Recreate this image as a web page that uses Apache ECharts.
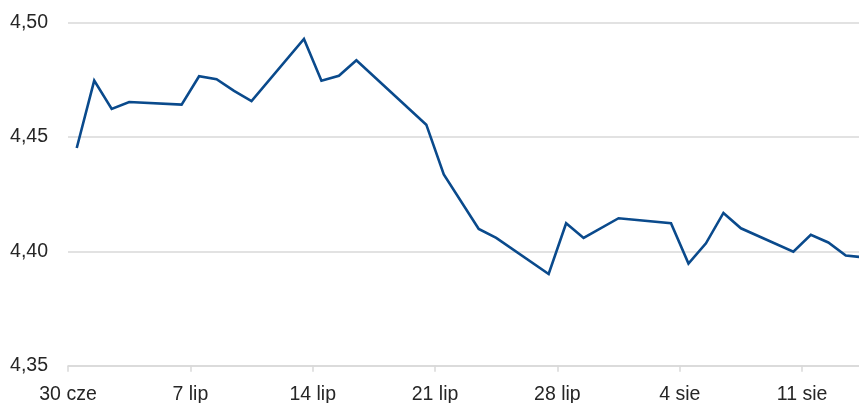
<!DOCTYPE html>
<html>
<head>
<meta charset="utf-8">
<script src="https://cdn.jsdelivr.net/npm/echarts@6/dist/echarts.min.js"></script>
<style>
  html, body { margin: 0; padding: 0; background: #ffffff; }
  #chart { width: 859px; height: 403px; }
</style>
</head>
<body>
<div id="chart"></div>
<script>
// Daily fixing, summer 2025
const dates = [
  '2025-07-01', '2025-07-02', '2025-07-03', '2025-07-04',
  '2025-07-07', '2025-07-08', '2025-07-09', '2025-07-10', '2025-07-11',
  '2025-07-14', '2025-07-15', '2025-07-16', '2025-07-17',
  '2025-07-21', '2025-07-22', '2025-07-24', '2025-07-25',
  '2025-07-28', '2025-07-29', '2025-07-30', '2025-08-01',
  '2025-08-04', '2025-08-05', '2025-08-06', '2025-08-07', '2025-08-08',
  '2025-08-11', '2025-08-12', '2025-08-13', '2025-08-14', '2025-08-15'
];
const values = [
  4.4452, 4.4747, 4.4623, 4.4653,
  4.4642, 4.4766, 4.4753, 4.4702, 4.4657,
  4.4929, 4.4746, 4.4768, 4.4836,
  4.4554, 4.4336, 4.4098, 4.4059,
  4.3901, 4.4123, 4.4059, 4.4145,
  4.4123, 4.3947, 4.4035, 4.4168, 4.4101,
  4.3999, 4.4072, 4.4039, 4.3982, 4.3974
];
const monthNames = ['sty', 'lut', 'mar', 'kwi', 'maj', 'cze', 'lip', 'sie', 'wrz', 'paź', 'lis', 'gru'];

const DAY = 86400000;
const origin = Date.UTC(2025, 5, 30); // 30 cze

function dayIndex(s) {
  const p = s.split('-').map(Number);
  return Math.round((Date.UTC(p[0], p[1] - 1, p[2]) - origin) / DAY);
}
function dayLabel(v) {
  const d = new Date(origin + Math.round(v - 0.5) * DAY);
  return d.getUTCDate() + ' ' + monthNames[d.getUTCMonth()];
}

const points = dates.map((d, i) => [dayIndex(d), values[i]]);

const chart = echarts.init(document.getElementById('chart'), null, { renderer: 'canvas' });
chart.setOption({
  animation: false,
  backgroundColor: '#ffffff',
  grid: {
    left: 68, right: -13, top: 22.7, bottom: 37.3,
    containLabel: false,
    outerBoundsMode: 'none'
  },
  xAxis: {
    type: 'value',
    min: 0.5,
    max: 46.5,
    interval: 7,
    axisLine: { show: true, lineStyle: { color: '#d9d9d9', width: 1.5 } },
    axisTick: { show: true, length: 6, lineStyle: { color: '#d9d9d9', width: 1.5 } },
    splitLine: { show: false },
    axisLabel: {
      formatter: dayLabel,
      showMaxLabel: false,
      color: '#262626',
      fontFamily: 'Liberation Sans, Arial, sans-serif',
      fontSize: 19.5,
      margin: 19
    }
  },
  yAxis: {
    type: 'value',
    min: 4.35,
    max: 4.50,
    interval: 0.05,
    axisLine: { show: false },
    axisTick: { show: false },
    splitLine: { show: true, lineStyle: { color: '#d9d9d9', width: 1.5 } },
    axisLabel: {
      formatter: v => v.toFixed(2).replace('.', ','),
      color: '#262626',
      fontFamily: 'Liberation Sans, Arial, sans-serif',
      fontSize: 19.5,
      margin: 20
    }
  },
  series: [{
    type: 'line',
    data: points,
    showSymbol: false,
    symbol: 'none',
    lineStyle: { color: '#0a4a8c', width: 2.6, join: 'miter' },
    clip: true
  }]
});
</script>
</body>
</html>
